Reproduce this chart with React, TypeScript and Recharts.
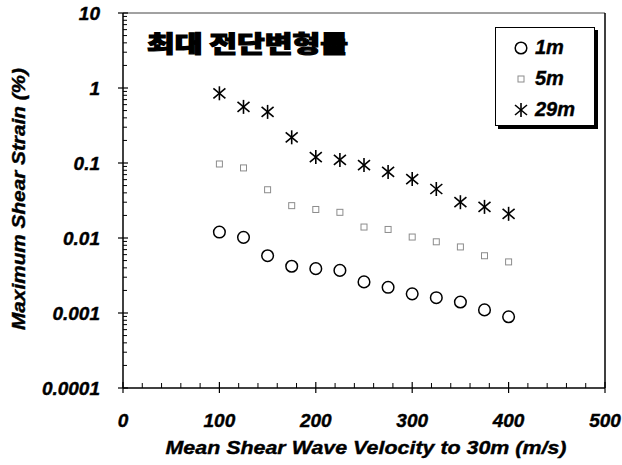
import React from 'react';
import { ScatterChart, Scatter, XAxis, YAxis, ReferenceLine } from 'recharts';

// Vs30 (m/s) for every soil column
const velocity = [100, 125, 150, 175, 200, 225, 250, 275, 300, 325, 350, 375, 400];

// max shear strain (%), per depth
const strain1m = [0.012, 0.0102, 0.0058, 0.0042, 0.0039, 0.0037, 0.0026, 0.0022, 0.0018, 0.0016, 0.0014, 0.0011, 0.00089];
const strain5m = [0.097, 0.086, 0.044, 0.027, 0.024, 0.022, 0.014, 0.013, 0.0103, 0.0089, 0.0076, 0.0058, 0.0048];
const strain29m = [0.85, 0.56, 0.48, 0.22, 0.12, 0.11, 0.094, 0.076, 0.061, 0.045, 0.030, 0.026, 0.021];

const seriesNames = ['1m', '5m', '29m'];
const yDecades = [0.0001, 0.001, 0.01, 0.1, 1, 10];
const yDecadeLabels = ['0.0001', '0.001', '0.01', '0.1', '1', '10'];
const xTicks = [0, 20, 40, 60, 80, 100, 120, 140, 160, 180, 200, 220, 240, 260, 280, 300, 320, 340, 360, 380, 400, 420, 440, 460, 480, 500];
const xTickLabels = ['0', '100', '200', '300', '400', '500'];

const title = '최대 전단변형률';
const xTitle = 'Mean Shear Wave Velocity to 30m (m/s)';
const yTitle = 'Maximum Shear Strain (%)';

const FONT = '"Liberation Sans", Arial, sans-serif';

const toPoints = (vals: number[]) => velocity.map((v, i) => ({ x: v, y: vals[i] }));

// log ticks incl. minor ones (2..9 per decade)
const yTicks: number[] = [];
yDecades.forEach((d, i) => {
  if (i === yDecades.length - 1) { yTicks.push(d); return; }
  for (let k = 1; k <= 9; k++) yTicks.push(d * k);
});

const isDecade = (v: number) => {
  const l = Math.log10(v);
  return Math.abs(l - Math.round(l)) < 1e-6;
};

const Circle = (p: any) => (
  <circle cx={p.cx} cy={p.cy} r={5.8} fill="none" stroke="#000" strokeWidth={1.5} />
);
const Square = (p: any) => (
  <rect x={p.cx - 3} y={p.cy - 3} width={6} height={6} fill="none" stroke="#8c8c8c" strokeWidth={1} />
);
const Star = (p: any) => (
  <g stroke="#000" strokeWidth={1.6}>
    <line x1={p.cx} y1={p.cy - 7} x2={p.cx} y2={p.cy + 7} />
    <line x1={p.cx - 6} y1={p.cy - 5} x2={p.cx + 6} y2={p.cy + 5} />
    <line x1={p.cx - 6} y1={p.cy + 5} x2={p.cx + 6} y2={p.cy - 5} />
  </g>
);

const labelStyle = {
  fontFamily: FONT, fontWeight: 'bold', fontStyle: 'italic', fill: '#000',
  stroke: '#000', strokeWidth: 0.4,
} as const;

const YTick = (props: any) => {
  const { x, y, payload } = props;
  const v = payload.value;
  if (isDecade(v)) {
    const idx = yDecades.findIndex((d) => Math.abs(Math.log10(d) - Math.log10(v)) < 1e-6);
    return (
      <g>
        <line x1={x - 5} y1={y} x2={x + 5} y2={y} stroke="#000" strokeWidth={1.2} />
        <text x={x - 23} y={y + 6.5} textAnchor="end" fontSize={19} {...labelStyle}>{yDecadeLabels[idx]}</text>
      </g>
    );
  }
  return <line x1={x} y1={y} x2={x + 4} y2={y} stroke="#000" strokeWidth={1} />;
};

const XTick = (props: any) => {
  const { x, y, payload } = props;
  const v = payload.value;
  if (v % 100 === 0) {
    return (
      <g>
        <line x1={x} y1={y - 6} x2={x} y2={y + 5} stroke="#000" strokeWidth={1.2} />
        <text x={x} y={y + 39} textAnchor="middle" fontSize={19} {...labelStyle}>{xTickLabels[v / 100]}</text>
      </g>
    );
  }
  return <line x1={x} y1={y} x2={x} y2={y - 5} stroke="#000" strokeWidth={1} />;
};

const LegendBox = () => {
  const icons = [
    <circle cx={10} cy={10} r={5.8} fill="none" stroke="#000" strokeWidth={1.5} />,
    <rect x={7} y={7} width={6} height={6} fill="none" stroke="#8c8c8c" strokeWidth={1} />,
    <g stroke="#000" strokeWidth={1.6}>
      <line x1={10} y1={3} x2={10} y2={17} />
      <line x1={4} y1={5} x2={16} y2={15} />
      <line x1={4} y1={15} x2={16} y2={5} />
    </g>,
  ];
  return (
    <div style={{
      position: 'absolute', left: 495, top: 27,
      width: 100, height: 99, border: '1px solid #000', background: '#fff',
      boxShadow: '3px 3px 0 #000', boxSizing: 'border-box', paddingTop: 4,
    }}>
      {seriesNames.map((n, i) => (
        <div key={n} style={{ display: 'flex', alignItems: 'center', height: 31, paddingLeft: 15 }}>
          <svg width={20} height={20}>{icons[i]}</svg>
          <span style={{
            marginLeft: 4, fontFamily: FONT, fontSize: 20, fontWeight: 'bold', fontStyle: 'italic',
            WebkitTextStroke: '0.4px #000',
          }}>{n}</span>
        </div>
      ))}
    </div>
  );
};

export default function App() {
  return (
    <div style={{ position: 'absolute', left: 0, top: 0, width: 622, height: 465, background: '#fff' }}>
      <ScatterChart width={622} height={465} margin={{ top: 13, right: 17, left: 0, bottom: 0 }}>
        <XAxis type="number" dataKey="x" domain={[0, 500]} ticks={xTicks} interval={0}
          height={77} tickSize={0} tickMargin={0} tickLine={false}
          axisLine={{ stroke: '#000', strokeWidth: 1.5 }} tick={<XTick />}
          label={{
            content: () => (
              <text x={366} y={454} textAnchor="middle" fontSize={19} textLength={401}
                lengthAdjust="spacingAndGlyphs" {...labelStyle}>{xTitle}</text>
            ),
          }} />
        <YAxis type="number" dataKey="y" scale="log" domain={[0.0001, 10]} allowDataOverflow
          ticks={yTicks} interval={0} width={123} tickSize={0} tickMargin={0} tickLine={false}
          axisLine={{ stroke: '#000', strokeWidth: 1.5 }} tick={<YTick />}
          label={{
            content: () => (
              <text x={25} y={199} transform="rotate(-90 25 199)" textAnchor="middle" fontSize={18}
                textLength={262} lengthAdjust="spacingAndGlyphs" {...labelStyle}>{yTitle}</text>
            ),
          }} />
        <ReferenceLine y={10} stroke="#444" strokeWidth={1} />
        <ReferenceLine x={500} stroke="#000" strokeWidth={1.5} />
        <Scatter name="1m" data={toPoints(strain1m)} shape={Circle} isAnimationActive={false} />
        <Scatter name="5m" data={toPoints(strain5m)} shape={Square} isAnimationActive={false} />
        <Scatter name="29m" data={toPoints(strain29m)} shape={Star} isAnimationActive={false} />
      </ScatterChart>
      <LegendBox />
      <svg width={622} height={465} style={{ position: 'absolute', left: 0, top: 0, pointerEvents: 'none' }}>
        <text x={147} y={52} textLength={201} lengthAdjust="spacingAndGlyphs"
          fontFamily='"Noto Sans CJK KR", sans-serif' fontSize={23} fontWeight={900} fill="#000"
          stroke="#000" strokeWidth={1.2}>{title}</text>
      </svg>
    </div>
  );
}
